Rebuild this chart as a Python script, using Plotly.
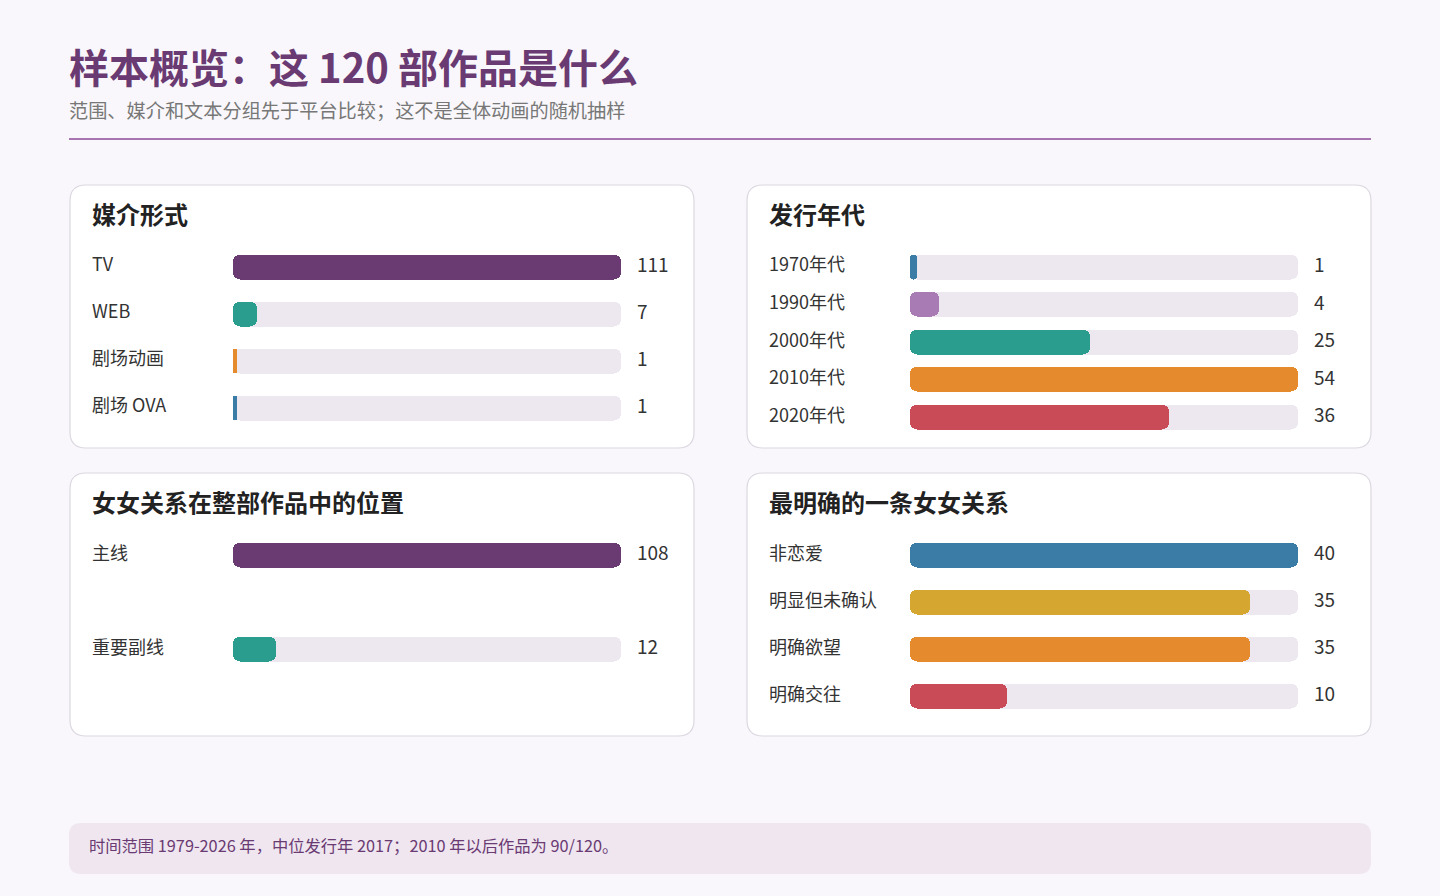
import plotly.graph_objects as go

W, H = 1440, 896

# 数据
media_labels = ["TV", "WEB", "剧场动画", "剧场 OVA"]
media_values = [111, 7, 1, 1]
media_colors = ["#6a3a72", "#2a9d8f", "#e68a2e", "#3a7ca5"]

decade_labels = ["1970年代", "1990年代", "2000年代", "2010年代", "2020年代"]
decade_values = [1, 4, 25, 54, 36]
decade_colors = ["#3a7ca5", "#a97bb5", "#2a9d8f", "#e68a2e", "#c94b57"]

role_labels = ["主线", "重要副线"]
role_values = [108, 12]
role_colors = ["#6a3a72", "#2a9d8f"]

rel_labels = ["非恋爱", "明显但未确认", "明确欲望", "明确交往"]
rel_values = [40, 35, 35, 10]
rel_colors = ["#3a7ca5", "#d6a730", "#e68a2e", "#c94b57"]

FONT = "Noto Sans CJK SC"
TRACK = "#ede8ef"


def px_x(p):
    return p / W


def px_y(p):
    return 1 - p / H


def rounded_rect(x0, y0, x1, y1, r):
    # 像素坐标 -> paper 坐标的圆角矩形路径
    pts = [
        f"M {px_x(x0 + r)} {px_y(y0)}",
        f"L {px_x(x1 - r)} {px_y(y0)}",
        f"Q {px_x(x1)} {px_y(y0)} {px_x(x1)} {px_y(y0 + r)}",
        f"L {px_x(x1)} {px_y(y1 - r)}",
        f"Q {px_x(x1)} {px_y(y1)} {px_x(x1 - r)} {px_y(y1)}",
        f"L {px_x(x0 + r)} {px_y(y1)}",
        f"Q {px_x(x0)} {px_y(y1)} {px_x(x0)} {px_y(y1 - r)}",
        f"L {px_x(x0)} {px_y(y0 + r)}",
        f"Q {px_x(x0)} {px_y(y0)} {px_x(x0 + r)} {px_y(y0)} Z",
    ]
    return " ".join(pts)


def pill(fig, vals, rows, width, color, xa, ya, hover=None):
    # 显式给 base 时 plotly 会把柱子两端都做成圆角
    kw = dict(hoverinfo="skip") if hover is None else dict(
        customdata=hover, hovertemplate="%{customdata}<extra></extra>")
    fig.add_trace(go.Bar(
        x=vals, y=rows, base=[0] * len(rows), orientation="h", width=[width] * len(rows),
        marker=dict(color=color, cornerradius=7, line=dict(width=0)),
        xaxis=xa, yaxis=ya, showlegend=False, **kw,
    ))


panels = [
    # title, labels, values, colors, card box, bar x span, first row center
    ("媒介形式", media_labels, media_values, media_colors, (70, 185, 694, 448), (233, 621), 266.5),
    ("发行年代", decade_labels, decade_values, decade_colors, (747, 185, 1371, 448), (910, 1298), 266.5),
    ("女女关系在整部作品中的位置", role_labels, role_values, role_colors, (70, 473, 694, 736), (233, 621), 554.5),
    ("最明确的一条女女关系", rel_labels, rel_values, rel_colors, (747, 473, 1371, 736), (910, 1298), 554.5),
]

fig = go.Figure()
shapes = []
annotations = []
layout_axes = {}

BAND_TOTAL = 188
BAR_PX = 25

for k, (title, labels, values, colors, box, xspan, c0) in enumerate(panels):
    n = len(labels)
    band = BAND_TOTAL / n
    idx = "" if k == 0 else str(k + 1)
    xa, ya = "x" + idx, "y" + idx
    top_px, bot_px = c0 - 30, c0 - 30 + 200
    v_top = (top_px - c0) / band
    v_bot = (bot_px - c0) / band
    rows = list(range(n))
    vmax = max(values)
    w = BAR_PX / band

    pill(fig, [vmax] * n, rows, w, TRACK, xa, ya)
    pill(fig, values, rows, w, colors, xa, ya,
         hover=[f"{l}: {v}" for l, v in zip(labels, values)])

    layout_axes["xaxis" + idx] = dict(
        domain=[px_x(xspan[0]), px_x(xspan[1])], range=[0, vmax],
        visible=False, fixedrange=True, anchor=ya,
    )
    layout_axes["yaxis" + idx] = dict(
        domain=[px_y(bot_px), px_y(top_px)], range=[v_bot, v_top],
        visible=False, fixedrange=True, anchor=xa,
    )

    x0, y0, x1, y1 = box
    shapes.append(dict(
        type="path", path=rounded_rect(x0, y0, x1, y1, 16), xref="paper", yref="paper",
        fillcolor="#ffffff", line=dict(color="#dcd7e0", width=1.2), layer="below",
    ))
    annotations.append(dict(
        text=f"<b>{title}</b>", xref="paper", yref="paper", x=px_x(x0 + 20), y=px_y(y0 + 28),
        xanchor="left", yanchor="middle", showarrow=False,
        font=dict(family=FONT, size=24, color="#222222"),
    ))
    for i, (lab, val) in enumerate(zip(labels, values)):
        annotations.append(dict(
            text=lab, xref="paper", yref=ya, x=px_x(x0 + 20), y=i, yshift=3,
            xanchor="left", yanchor="middle", showarrow=False,
            font=dict(family=FONT, size=18, color="#333333"),
        ))
        annotations.append(dict(
            text=str(val), xref="paper", yref=ya, x=px_x(xspan[1] + 14), y=i, yshift=3,
            xanchor="left", yanchor="middle", showarrow=False,
            font=dict(family=FONT, size=19, color="#333333"),
        ))

# 标题、副标题、分隔线
annotations.append(dict(
    text="<b>样本概览：这 120 部作品是什么</b>", xref="paper", yref="paper",
    x=px_x(67), y=px_y(66), xanchor="left", yanchor="middle", showarrow=False,
    font=dict(family=FONT, size=40, color="#6a3a72"),
))
annotations.append(dict(
    text="范围、媒介和文本分组先于平台比较；这不是全体动画的随机抽样", xref="paper", yref="paper",
    x=px_x(67), y=px_y(110), xanchor="left", yanchor="middle", showarrow=False,
    font=dict(family=FONT, size=19.2, color="#777777"),
))
shapes.append(dict(
    type="line", xref="paper", yref="paper", x0=px_x(69), x1=px_x(1371),
    y0=px_y(139), y1=px_y(139), line=dict(color="#a776b1", width=2),
))

# 底部说明
shapes.append(dict(
    type="path", path=rounded_rect(69, 823, 1371, 874, 12), xref="paper", yref="paper",
    fillcolor="#efe6f0", line=dict(width=0), layer="below",
))
annotations.append(dict(
    text="时间范围 1979-2026 年，中位发行年 2017；2010 年以后作品为 90/120。", xref="paper", yref="paper",
    x=px_x(87), y=px_y(845), xanchor="left", yanchor="middle", showarrow=False,
    font=dict(family=FONT, size=16.3, color="#6a3a72"),
))

fig.update_layout(
    width=W, height=H,
    margin=dict(l=0, r=0, t=0, b=0),
    paper_bgcolor="#f9f7fb", plot_bgcolor="rgba(0,0,0,0)",
    barmode="overlay", bargap=0,
    shapes=shapes, annotations=annotations,
    font=dict(family=FONT),
    **layout_axes,
)

fig.write_html(
    "out.html",
    config={"displayModeBar": False},
    post_script="document.body.style.margin='0px';",
)
